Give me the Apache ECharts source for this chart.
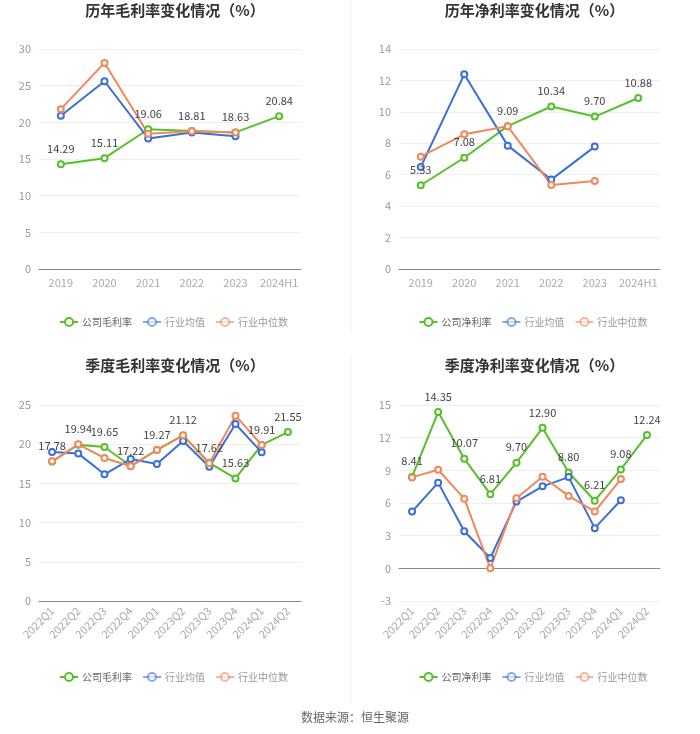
<!DOCTYPE html>
<html><head><meta charset="utf-8">
<script src="https://cdn.jsdelivr.net/npm/echarts@6/dist/echarts.min.js"></script>
<style>html,body{margin:0;padding:0;background:#fff;}#c{width:700px;height:734px;}</style>
</head><body><div id="c"></div>
<script>
const yearCats = ['2019','2020','2021','2022','2023','2024H1'];
const quarterCats = ['2022Q1','2022Q2','2022Q3','2022Q4','2023Q1','2023Q2','2023Q3','2023Q4','2024Q1','2024Q2'];

const annualGrossCompany = [14.29, 15.11, 19.06, 18.81, 18.63, 20.84];
const annualGrossIndAvg = [20.9, 25.6, 17.8, 18.6, 18.1, null];
const annualGrossIndMed = [21.8, 28.1, 18.45, 18.8, 18.6, null];

const annualNetCompany = [5.33, 7.08, 9.09, 10.34, 9.70, 10.88];
const annualNetIndAvg = [6.49, 12.39, 7.85, 5.69, 7.79, null];
const annualNetIndMed = [7.15, 8.57, 9.08, 5.35, 5.6, null];

const qGrossCompany = [17.78, 19.94, 19.65, 17.22, 19.27, 21.12, 17.62, 15.63, 19.91, 21.55];
const qGrossIndAvg = [19.0, 18.8, 16.16, 18.11, 17.47, 20.4, 17.13, 22.58, 18.96, null];
const qGrossIndMed = [17.81, 19.98, 18.24, 17.18, 19.26, 21.13, 17.56, 23.64, 19.9, null];

const qNetCompany = [8.41, 14.35, 10.07, 6.81, 9.70, 12.90, 8.80, 6.21, 9.08, 12.24];
const qNetIndAvg = [5.21, 7.87, 3.41, 0.95, 6.13, 7.53, 8.38, 3.69, 6.25, null];
const qNetIndMed = [8.35, 9.05, 6.4, 0.0, 6.43, 8.41, 6.65, 5.21, 8.2, null];

const titles = ['历年毛利率变化情况（%）','历年净利率变化情况（%）','季度毛利率变化情况（%）','季度净利率变化情况（%）'];
const companyNames = ['公司毛利率','公司净利率','公司毛利率','公司净利率'];
const avgName = '行业均值', medName = '行业中位数';
const sourceText = '数据来源：恒生聚源';

const GREEN = '#56c02a', BLUE = '#3b6fd8', ORANGE = '#f2875c';
const FONT = '"Noto Sans CJK SC", "Noto Sans", sans-serif';

const grids = [
  {left: 39, top: 49, width: 262, height: 220},
  {left: 399, top: 49, width: 261, height: 220},
  {left: 39, top: 405, width: 262, height: 196},
  {left: 399, top: 405, width: 261, height: 196}
];
const yCfg = [
  {min: 0, max: 30, interval: 5},
  {min: 0, max: 14, interval: 2},
  {min: 0, max: 25, interval: 5},
  {min: -3, max: 15, interval: 3}
];
const cats = [yearCats, yearCats, quarterCats, quarterCats];
const data = [
  [annualGrossCompany, annualGrossIndAvg, annualGrossIndMed],
  [annualNetCompany, annualNetIndAvg, annualNetIndMed],
  [qGrossCompany, qGrossIndAvg, qGrossIndMed],
  [qNetCompany, qNetIndAvg, qNetIndMed]
];
const titleTops = [-2, -2, 353, 353];
const legendTops = [312, 312, 667, 667];

const option = {
  animation: false,
  textStyle: {fontFamily: FONT},
  title: titles.map((t, i) => ({
    text: t, left: grids[i].left + grids[i].width / 2, top: titleTops[i], textAlign: 'center',
    textStyle: {fontSize: 15, fontWeight: 'bold', color: '#333', fontFamily: FONT}
  })).concat([{
    text: sourceText, left: 350, top: 706, textAlign: 'center',
    textStyle: {fontSize: 12, fontWeight: 'normal', color: '#666', fontFamily: FONT}
  }]),
  legend: grids.map((g, i) => ({
    left: g.left + g.width / 2 - 116, top: legendTops[i], itemWidth: 18, itemHeight: 10, itemGap: 10,
    textStyle: {fontSize: 10, color: '#999', fontFamily: FONT, padding: [0, 0, 0, -1]},
    data: [
      {name: companyNames[i], textStyle: {color: '#666'}},
      {name: avgName, itemStyle: {opacity: 0.6}, lineStyle: {opacity: 0.6}},
      {name: medName, itemStyle: {opacity: 0.6}, lineStyle: {opacity: 0.6}}
    ]
  })),
  grid: grids,
  xAxis: grids.map((g, i) => ({
    type: 'category', gridIndex: i, data: cats[i], boundaryGap: true,
    axisLine: {lineStyle: {color: '#888'}},
    axisTick: {alignWithLabel: true, lineStyle: {color: '#888'}},
    axisLabel: {color: '#aaa', fontSize: 11, rotate: i >= 2 ? 45 : 0, margin: 8, interval: 0, fontFamily: FONT}
  })),
  yAxis: grids.map((g, i) => ({
    type: 'value', gridIndex: i, min: yCfg[i].min, max: yCfg[i].max, interval: yCfg[i].interval,
    axisLine: {show: false}, axisTick: {show: false},
    axisLabel: {color: '#999', fontSize: 11, margin: 8, fontFamily: FONT},
    splitLine: {lineStyle: {color: '#eeeeee'}}
  })),
  series: [],
  graphic: [
    {type: 'line', shape: {x1: 351, y1: 0, x2: 351, y2: 333}, style: {stroke: '#f2f2f2', lineWidth: 1}},
    {type: 'line', shape: {x1: 351, y1: 354, x2: 351, y2: 705}, style: {stroke: '#f2f2f2', lineWidth: 1}}
  ]
};

data.forEach((d, i) => {
  const names = [companyNames[i], avgName, medName];
  const colors = [GREEN, BLUE, ORANGE];
  [0, 1, 2].forEach(k => {
    option.series.push({
      type: 'line', name: names[k], xAxisIndex: i, yAxisIndex: i, data: d[k],
      symbol: 'emptyCircle', symbolSize: 6, showSymbol: true,
      itemStyle: {color: colors[k], borderWidth: 1.5},
      lineStyle: {color: colors[k], width: 2},
      label: k === 0 ? {show: true, position: 'top', distance: 6, fontSize: 11, color: '#444',
        fontFamily: FONT, formatter: p => p.value.toFixed(2)} : {show: false}
    });
  });
});

const chart = echarts.init(document.getElementById('c'), null, {renderer: 'canvas'});
chart.setOption(option);
</script></body></html>
